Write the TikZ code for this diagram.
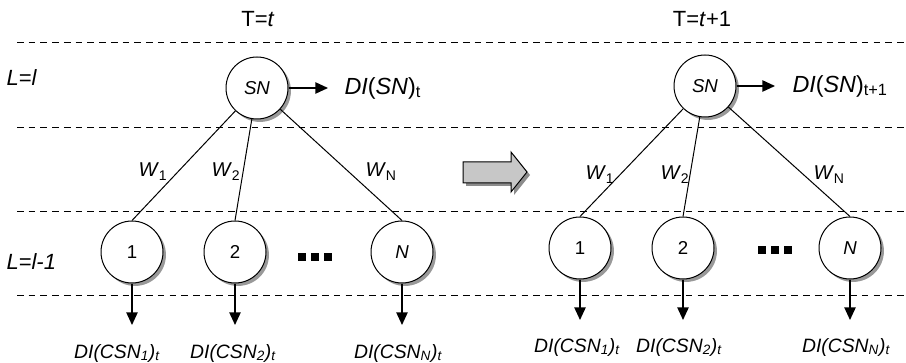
\documentclass[tikz,border=0pt]{standalone}
\usepackage{fontspec}
\setmainfont{Liberation Sans}
\usetikzlibrary{arrows.meta,shadows}

\tikzset{every picture/.style={line width=0.75pt}}
\tikzset{
  layer/.style={dash pattern=on 5pt off 3.8pt, line width=0.75pt},
  neuron/.style={circle, draw, fill=white, minimum size=46.5pt, inner sep=0pt,
    font=\fontsize{14}{16}\selectfont,
    drop shadow={shadow xshift=2.2pt, shadow yshift=-2.2pt, fill=black!40, opacity=1}},
  outarrow/.style={line width=1.1pt, -{Triangle[length=9.5pt,width=8.5pt]}},
  lbl/.style={inner sep=0.75pt, font=\fontsize{15}{18}\selectfont},
  outlbl/.style={inner sep=0.75pt, font=\fontsize{14.5}{17}\selectfont},
  biglbl/.style={inner sep=0.75pt, font=\fontsize{17.5}{20}\selectfont},
  timelbl/.style={inner sep=0.75pt, font=\fontsize{16.5}{19}\selectfont},
}

\begin{document}
\begin{tikzpicture}[x=0.75pt,y=0.75pt,yscale=-1,xscale=1]
	\useasboundingbox (0,0) rectangle (906,363);
	
	%Dashed layer lines
	\draw [layer] (17,43) -- (906,43) ;
	\draw [layer] (17,128) -- (906,128) ;
	\draw [layer] (17,212) -- (906,212) ;
	\draw [layer] (17,295) -- (906,295) ;
	
	% Text Node
	\node [timelbl, anchor=base] (Tl) at (258,27) {T=\textit{t}};
	\node [timelbl, anchor=base] (Tr) at (702,27) {T=\textit{t}+1};
	\node [timelbl, anchor=base west] (Lup) at (5,86) {\textit{L=l}};
	\node [timelbl, anchor=base west] (Ldn) at (5,270) {\textit{L=l-1}};
	
	%Left tree, T=t
	\node [neuron] (SNa) at (257,88) {\textit{SN}};
	\node [neuron] (c1a) at (132,252) {1};
	\node [neuron] (c2a) at (235,252) {2};
	\node [neuron] (cNa) at (402,252) {\textit{N}};
	\node [inner sep=0pt] (dotsa) at (315,257) {\rule{6pt}{6pt}\hspace{4pt}\rule{6pt}{6pt}\hspace{4pt}\rule{6pt}{6pt}};
	
	\draw (SNa) -- (c1a.north) ;
	\draw (SNa) -- (c2a.north) ;
	\draw (SNa) -- (cNa.north) ;
	
	\node [lbl, anchor=base west] (w1a) at (137,177) {\textit{W}\textsubscript{1}};
	\node [lbl, anchor=base west] (w2a) at (210,177) {\textit{W}\textsubscript{2}};
	\node [lbl, anchor=base west] (wNa) at (364,177) {\textit{W}\textsubscript{N}};
	
	\coordinate (ea) at (328,88);
	\draw [outarrow] (SNa) -- (ea) ;
	\node [biglbl, anchor=west] (DIa) at (343,88) {\textit{DI}(\textit{SN})\textsubscript{t}};
	
	\coordinate (e1a) at (132,325);
	\coordinate (e2a) at (235,325);
	\coordinate (eNa) at (402,325);
	\draw [outarrow] (c1a) -- (e1a) ;
	\draw [outarrow] (c2a) -- (e2a) ;
	\draw [outarrow] (cNa) -- (eNa) ;
	\node [outlbl] (o1a) at (117,353) {\textit{DI(CSN\textsubscript{1})\textsubscript{t}}};
	\node [outlbl] (o2a) at (233,353) {\textit{DI(CSN\textsubscript{2})\textsubscript{t}}};
	\node [outlbl] (oNa) at (398,353) {\textit{DI(CSN\textsubscript{N})\textsubscript{t}}};
	
	%Big arrow between time steps
	\fill [black!45] (466,165) -- (514,165) -- (514,155) -- (530,175) -- (514,195) -- (514,186) -- (466,186) -- cycle ;
	\draw [fill=black!22] (463,162) -- (511,162) -- (511,152) -- (527,172) -- (511,192) -- (511,183) -- (463,183) -- cycle ;
	
	%Right tree, T=t+1
	\node [neuron] (SNb) at (705,86) {\textit{SN}};
	\node [neuron] (c1b) at (580,248) {1};
	\node [neuron] (c2b) at (683,248) {2};
	\node [neuron] (cNb) at (850,248) {\textit{N}};
	\node [inner sep=0pt] (dotsb) at (775,250) {\rule{6pt}{6pt}\hspace{4pt}\rule{6pt}{6pt}\hspace{4pt}\rule{6pt}{6pt}};
	
	\draw (SNb) -- (c1b.north) ;
	\draw (SNb) -- (c2b.north) ;
	\draw (SNb) -- (cNb.north) ;
	
	\node [lbl, anchor=base west] (w1b) at (584,180) {\textit{W}\textsubscript{1}};
	\node [lbl, anchor=base west] (w2b) at (659,180) {\textit{W}\textsubscript{2}};
	\node [lbl, anchor=base west] (wNb) at (812,180) {\textit{W}\textsubscript{N}};
	
	\coordinate (eb) at (775,86);
	\draw [outarrow] (SNb) -- (eb) ;
	\node [biglbl, anchor=west] (DIb) at (791,86) {\textit{DI}(\textit{SN})\textsubscript{t+1}};
	
	\coordinate (e1b) at (580,320);
	\coordinate (e2b) at (683,320);
	\coordinate (eNb) at (850,320);
	\draw [outarrow] (c1b) -- (e1b) ;
	\draw [outarrow] (c2b) -- (e2b) ;
	\draw [outarrow] (cNb) -- (eNb) ;
	\node [outlbl] (o1b) at (577,347) {\textit{DI(CSN\textsubscript{1})\textsubscript{t}}};
	\node [outlbl] (o2b) at (679,347) {\textit{DI(CSN\textsubscript{2})\textsubscript{t}}};
	\node [outlbl] (oNb) at (846,347) {\textit{DI(CSN\textsubscript{N})\textsubscript{t}}};
	
\end{tikzpicture}
\end{document}
